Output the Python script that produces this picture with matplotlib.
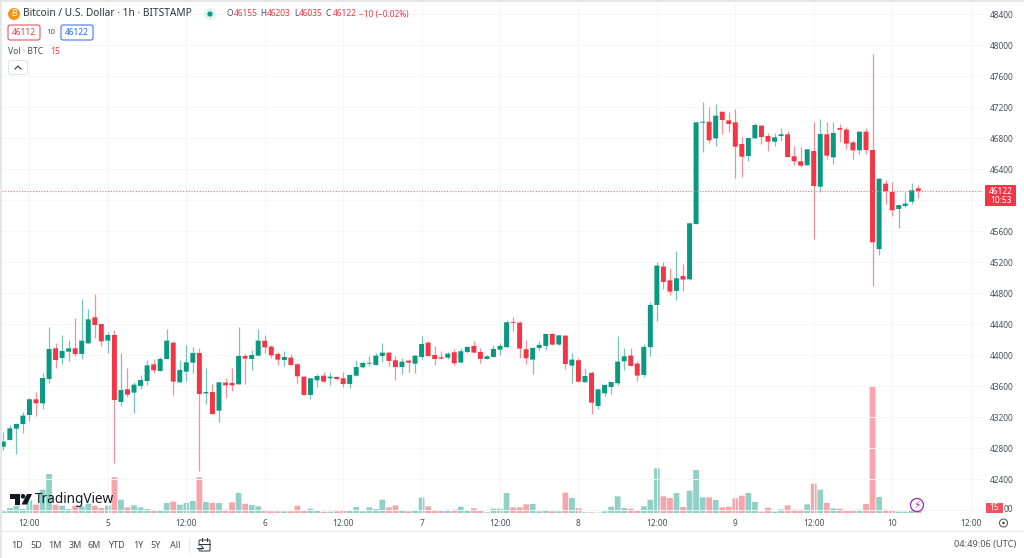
import numpy as np
import matplotlib
matplotlib.use("Agg")
import matplotlib.pyplot as plt
from matplotlib.patches import Rectangle, FancyBboxPatch, Circle, Polygon

plt.rcParams['font.family'] = ['Noto Sans', 'DejaVu Sans']

# hourly candles, first one is Dec 4 08:00
opens = [42820,42907,43053,43113,43229,43432,43380,43694,44090,43965,
         44047,44090,44017,44154,44490,44404,44189,44262,43397,43561,
         43518,43604,43668,43883,43797,43952,44163,43651,43789,43905,
         44030,43509,43526,43285,43647,43643,43625,43991,43952,43995,
         44189,44112,44017,43939,43970,43884,43724,43488,43677,43737,
         43703,43720,43703,43630,43737,43845,43892,43875,43991,44034,
         43935,43849,43931,43892,43978,44163,44004,43974,43970,44039,
         43906,44043,44121,44043,43953,43979,44073,44104,44426,44422,
         44078,43944,44095,44121,44276,44138,44254,43867,43936,43652,
         43772,43346,43510,43591,43639,43923,43996,43893,43746,44104,
         44650,45145,44968,44831,45024,44981,45695,47003,47016,46801,
         47145,47033,47008,46728,46573,46801,46965,46831,46758,46831,
         46853,46569,46504,46453,46638,46177,46853,46556,46934,46913,
         46749,46646,46887,46650,45372,46216,46108,45889,45928,45983,46155]
highs = [43014,43100,43122,43272,43444,43531,43776,44361,44154,44262,
         44197,44477,44731,44602,44791,44404,44296,44327,44025,43836,
         43660,43746,43939,43948,43974,44339,44185,43939,44133,44111,
         44090,43832,43629,43660,43703,43832,44370,44017,44069,44344,
         44262,44133,44047,44056,44013,43896,43729,43703,43759,43780,
         43780,43733,43785,43759,43939,43927,43991,44026,44155,44047,
         43991,43961,43957,44000,44254,44180,44120,44056,44047,44078,
         44099,44121,44185,44091,44005,44134,44164,44456,44499,44448,
         44198,44104,44185,44276,44293,44267,44263,44035,43962,43832,
         43802,43566,43626,43660,44250,44091,44091,43931,44142,44684,
         45201,45205,45123,45347,45179,45704,47008,47274,47201,47244,
         47145,47145,47175,46814,46810,46995,46977,46866,46866,46930,
         46900,46702,46685,46659,47016,47046,47016,47016,46986,46943,
         46780,46887,46930,47890,46293,46263,46242,45940,46104,46220,46203]
lows = [42777,42900,42726,42993,43152,43221,43302,43647,43840,43888,
        43931,43991,43956,44154,44228,44124,44034,42614,43345,43457,
        43259,43565,43617,43767,43797,43952,43492,43651,43672,43767,
        42506,43371,43242,43143,43445,43544,43625,43625,43810,43995,
        44026,43961,43875,43866,43875,43638,43488,43440,43595,43660,
        43617,43681,43587,43578,43737,43836,43866,43875,43918,43866,
        43681,43763,43785,43776,43948,43991,43875,43948,43948,43875,
        43897,44026,44026,43906,43949,43979,44005,44104,44319,43970,
        43888,43755,44069,44069,44138,44138,43820,43647,43660,43652,
        43243,43307,43475,43501,43617,43811,43863,43673,43721,43992,
        44439,44857,44779,44715,44835,44972,45695,46620,46745,46702,
        46857,46887,46285,46306,46513,46801,46724,46642,46702,46771,
        46556,46453,46435,46453,45502,46104,46530,46465,46758,46659,
        46530,46595,46599,44899,45295,45953,45803,45639,45910,45953,46035]
closes = [42885,43057,43113,43221,43432,43380,43707,44081,43939,44055,
          44090,44017,44189,44464,44391,44180,44262,43423,43552,43492,
          43621,43681,43870,43806,43952,44189,43660,43810,43909,44030,
          43500,43526,43242,43651,43612,43612,43991,43957,44004,44189,
          44103,44000,43944,43978,43875,43729,43488,43703,43733,43660,
          43724,43694,43630,43746,43849,43901,43901,43995,44034,43927,
          43849,43918,43905,43995,44146,43991,43952,43957,44021,43897,
          44052,44108,44035,43953,43987,44082,44121,44426,44418,44086,
          43962,44095,44134,44276,44138,44258,43888,43944,43660,43733,
          43389,43561,43617,43656,43918,43987,43863,43738,44108,44650,
          45158,44947,44822,44994,44977,45704,47008,47016,46775,47094,
          47038,46986,46693,46564,46805,46973,46818,46758,46814,46853,
          46560,46504,46448,46659,46186,46857,46577,46870,46913,46732,
          46646,46887,46650,45459,46280,46117,45872,45940,45958,46130,46122]
volume = [10,30,44,24,76,50,140,234,50,44,
          24,44,40,56,44,30,44,214,80,34,
          46,34,24,18,18,60,68,50,60,72,
          214,66,60,60,20,64,120,56,48,40,
          16,10,10,10,10,44,16,26,12,8,
          8,10,16,12,36,10,34,24,80,34,
          46,16,10,14,92,40,16,16,20,20,
          38,16,28,16,4,26,26,120,34,34,
          52,54,10,16,10,10,122,90,30,4,
          4,2,10,38,100,30,26,18,40,80,
          268,100,90,120,36,134,258,94,94,78,
          34,38,88,104,120,66,8,32,8,22,
          46,20,20,52,176,140,60,28,26,16,
          16,20,54,762,96,20,16,8,8,16,15]

price_ticks = [42000,42400,42800,43200,43600,44000,44400,44800,45200,45600,
               46000,46400,46800,47200,47600,48000,48400]
# 42000 and 46000 sit under the badges on the price scale
price_labels = ["","42400","42800","43200","43600","44000","44400","44800","45200","45600",
                "","46400","46800","47200","47600","48000","48400"]
time_ticks = [4,16,28,40,52,64,76,88,100,112,124,136,148]
time_labels = ["12:00","5","12:00","6","12:00","7","12:00","8","12:00","9","12:00","10","12:00"]
last_price = 46122

GREEN = "#089981"
RED = "#F23645"
TEXT = "#4a4e5a"

opens, highs, lows, closes = map(np.array, (opens, highs, lows, closes))
idx = np.arange(len(opens))
up = closes >= opens
colors = np.where(up, GREEN, RED)

fig = plt.figure(figsize=(10.24, 5.58), dpi=100)
W, H = 1024, 558
ax = fig.add_axes([2/W, 1-513/H, (983-2)/W, (513-3)/H])
ax.set_xlim(-0.2, 149.9)
ax.set_ylim(41964, 48548)
ax.set_zorder(2)
ax.patch.set_visible(False)
for s in ax.spines.values():
    s.set_visible(False)

vol_ax = ax.twinx()
vol_ax.set_ylim(0, 3060)
vol_ax.set_zorder(1)
vol_ax.axis("off")
vol_ax.bar(idx, volume, width=0.88, color=colors, alpha=0.45, linewidth=0, snap=False)

ax.vlines(idx, lows, highs, colors=colors, linewidth=0.9, alpha=0.55)
ax.bar(idx, np.maximum(np.abs(closes-opens), 12), bottom=np.minimum(opens, closes),
       width=0.76, color=colors, linewidth=0, snap=False)
ax.axhline(last_price, color="#f7727d", linewidth=0.8, linestyle=(0, (1, 1.5)))

ax.set_yticks(price_ticks)
ax.set_yticklabels(price_labels)
ax.set_xticks(time_ticks)
ax.set_xticklabels(time_labels)
ax.yaxis.tick_right()
ax.tick_params(axis="y", length=0, pad=5, labelsize=6, labelcolor=TEXT)
ax.tick_params(axis="x", length=0, pad=4, labelsize=6, labelcolor=TEXT)
ax.grid(True, color="#f4f5f7", linewidth=0.7)
ax.set_axisbelow(True)

# overlay in pixel coordinates for the header, toolbar and badges
ov = fig.add_axes([0, 0, 1, 1])
ov.set_xlim(0, W)
ov.set_ylim(H, 0)
ov.axis("off")
ov.patch.set_visible(False)
ov.set_zorder(5)

ov.add_patch(Rectangle((0, 0), 2, H, color="#e4e6ea", linewidth=0))
ov.add_patch(Rectangle((0, 0), W, 2, color="#e4e6ea", linewidth=0))
ov.plot([2, 1024], [531, 531], color="#e8e9ee", linewidth=0.8)


def label(x, y, s, color=TEXT, size=6.5, ha="left", **kw):
    ov.text(x, y, s, color=color, fontsize=size, ha=ha, va="center", **kw)


# header
ov.add_patch(Circle((14, 14), 6, color="#F7931A", linewidth=0))
label(14, 14, "B", color="white", size=6, ha="center", fontweight="bold")
label(23, 14, "Bitcoin / U.S. Dollar · 1h · BITSTAMP", color="#30333d", size=7.3)
ov.add_patch(Circle((210, 14), 6, color="#dff3ef", linewidth=0))
ov.add_patch(Circle((210, 14), 2.6, color=GREEN, linewidth=0))
for x, s in [(226.5, "O"), (260.5, "H"), (294, "L"), (326, "C")]:
    label(x, 14, s, size=6)
for x, s in [(234, "46155"), (267, "46203"), (299, "46035"), (333, "46122"), (359, "−10 (−0.02%)")]:
    label(x, 14, s, color=RED, size=6)

ov.add_patch(FancyBboxPatch((8, 25), 32, 15, boxstyle="round,pad=0,rounding_size=2",
                            fc="white", ec=RED, linewidth=0.7))
label(24, 32.5, "46112", color=RED, size=6, ha="center")
label(50.5, 32.5, "10", size=5.6, ha="center")
ov.add_patch(FancyBboxPatch((61, 25), 32, 15, boxstyle="round,pad=0,rounding_size=2",
                            fc="white", ec="#2962ff", linewidth=0.7))
label(77, 32.5, "46122", color="#2962ff", size=6, ha="center")
label(8, 51.5, "Vol · BTC", size=6.2)
label(50, 51.5, "15", color=RED, size=6.2)
ov.add_patch(FancyBboxPatch((8.5, 60.5), 19, 14, boxstyle="round,pad=0,rounding_size=2",
                            fc="white", ec="#e0e3eb", linewidth=0.7))
ov.plot([15, 18, 21], [69, 66, 69], color="#30333d", linewidth=0.8)

# logo
ov.add_patch(Polygon([(10, 494), (20, 494), (20, 504.5), (15, 504.5), (15, 498.5), (10, 498.5)],
                     color="#131722", linewidth=0))
ov.add_patch(Circle((23, 496.3), 2.3, color="#131722", linewidth=0))
ov.add_patch(Polygon([(27, 494), (32, 494), (27, 504.5), (21.5, 504.5)], color="#131722", linewidth=0))
label(35, 499.5, "TradingView", color="#131722", size=9.8, fontweight="semibold")

# price badges
ov.add_patch(FancyBboxPatch((985, 185), 31, 21, boxstyle="round,pad=0,rounding_size=1", fc=RED, ec="none"))
label(1000.5, 191, "46122", color="white", size=6, ha="center")
label(1000.5, 200.5, "10:53", color="white", size=6, ha="center")
ov.add_patch(Rectangle((986, 503), 17, 10, fc="#F0525E", ec="none"))
label(994.5, 508, "15", color="white", size=6, ha="center")
label(1004, 510, "00", size=6)

# alert icon and settings
ov.add_patch(Circle((917, 505), 6.5, fc="white", ec="#9c27b0", linewidth=0.9))
label(917, 505, "⚡", color="#9c27b0", size=7.5, ha="center", family=["DejaVu Sans"])
ov.add_patch(Circle((1003.5, 523), 4, fc="white", ec=TEXT, linewidth=0.7))
ov.add_patch(Circle((1003.5, 523), 1.3, color=TEXT, linewidth=0))

# bottom toolbar
for x, s in [(17, "1D"), (36, "5D"), (55, "1M"), (75, "3M"), (94, "6M"), (116, "YTD"),
             (138, "1Y"), (156, "5Y"), (175, "All")]:
    label(x, 545, s, size=6.5, ha="center")
ov.plot([189, 189], [539, 552], color="#e8e9ee", linewidth=1)
ov.add_patch(FancyBboxPatch((199, 540), 11, 11, boxstyle="round,pad=0,rounding_size=1",
                            fc="white", ec="#30333d", linewidth=0.7))
ov.plot([199, 210], [543.5, 543.5], color="#30333d", linewidth=0.7)
ov.plot([202, 202], [538, 541], color="#30333d", linewidth=0.7)
ov.plot([207, 207], [538, 541], color="#30333d", linewidth=0.7)
ov.add_patch(Rectangle((196, 546), 5, 3, fc="white", ec="none"))
ov.plot([197, 203], [547.5, 547.5], color="#30333d", linewidth=0.7)
ov.plot([201, 203, 201], [545.5, 547.5, 549.5], color="#30333d", linewidth=0.7)
label(1016, 545, "04:49:06 (UTC)", size=6.6, ha="right")

fig.savefig("out.png", dpi=100)
